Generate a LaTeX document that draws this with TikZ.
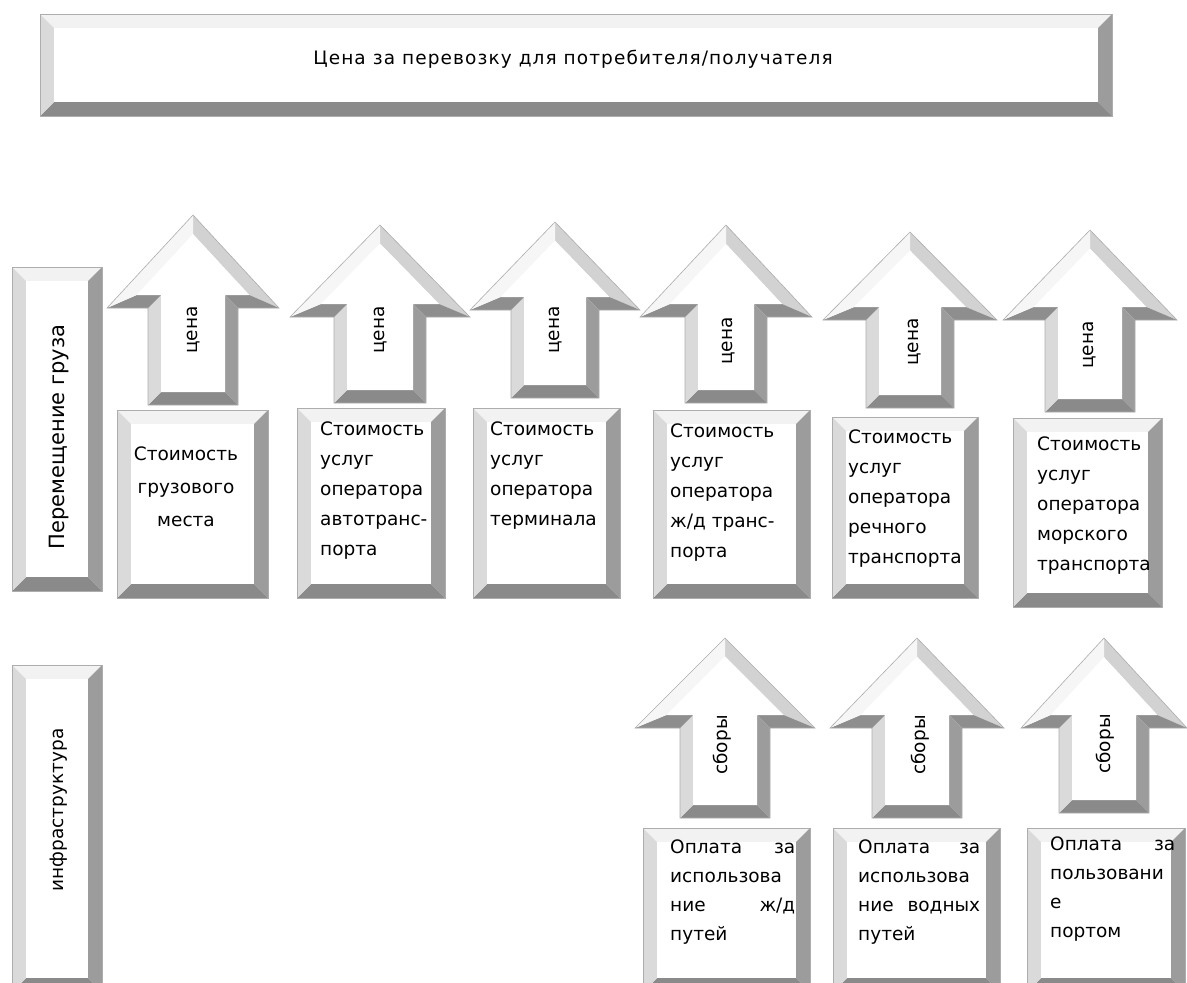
\documentclass[tikz,border=0pt]{standalone}
\usepackage{fontspec}
\setmainfont{DejaVu Sans}
\newfontfamily\topfont[LetterSpace=6]{DejaVu Sans}
\usetikzlibrary{calc}
\definecolor{bvtop}{HTML}{F2F2F2}
\definecolor{bvleft}{HTML}{DADADA}
\definecolor{bvright}{HTML}{9C9C9C}
\definecolor{bvbot}{HTML}{8A8A8A}
\definecolor{bvslantR}{HTML}{D2D2D2}
\definecolor{bvslantL}{HTML}{F6F6F6}
\definecolor{bvunder}{HTML}{8E8E8E}
\tikzset{
  edge/.style={draw=black!32, line width=0.6pt},
  boxtext/.style={anchor=north west, inner sep=0pt, align=left, font=\fontsize{18.5}{30}\selectfont},
  jtext/.style={boxtext, text width=#1},
  vlabel/.style={rotate=90, inner sep=0pt, font=\fontsize{18.5}{22}\selectfont},
}
\def\abv{13}
% name, cx, tip y, head half width, head base y, shaft half width, bottom y
\newcommand\bevarrow[7]{%
  \pgfmathsetmacro\ah{#5-#3}%
  \pgfmathsetmacro\aL{veclen(#4,\ah)}%
  \pgfmathsetmacro\atyi{#3+\abv*\aL/(#4)}%
  \pgfmathsetmacro\abyi{#5-\abv}%
  \pgfmathsetmacro\ahwi{(#4)*(\abyi-\atyi)/\ah}%
  \coordinate (#1-T) at (#2,#3);
  \coordinate (#1-R) at ({#2+#4},#5);
  \coordinate (#1-Rt) at ({#2+#6},#5);
  \coordinate (#1-Rb) at ({#2+#6},#7);
  \coordinate (#1-Lb) at ({#2-#6},#7);
  \coordinate (#1-Lt) at ({#2-#6},#5);
  \coordinate (#1-L) at ({#2-#4},#5);
  \coordinate (#1-Ti) at (#2,\atyi);
  \coordinate (#1-Ri) at ({#2+\ahwi},\abyi);
  \coordinate (#1-Rti) at ({#2+#6-\abv},\abyi);
  \coordinate (#1-Rbi) at ({#2+#6-\abv},{#7-\abv});
  \coordinate (#1-Lbi) at ({#2-#6+\abv},{#7-\abv});
  \coordinate (#1-Lti) at ({#2-#6+\abv},\abyi);
  \coordinate (#1-Li) at ({#2-\ahwi},\abyi);
  \fill[bvslantR] (#1-T)--(#1-R)--(#1-Ri)--(#1-Ti)--cycle;
  \fill[bvunder] (#1-R)--(#1-Rt)--(#1-Rti)--(#1-Ri)--cycle;
  \fill[bvright] (#1-Rt)--(#1-Rb)--(#1-Rbi)--(#1-Rti)--cycle;
  \fill[bvbot] (#1-Rb)--(#1-Lb)--(#1-Lbi)--(#1-Rbi)--cycle;
  \fill[bvleft] (#1-Lb)--(#1-Lt)--(#1-Lti)--(#1-Lbi)--cycle;
  \fill[bvunder] (#1-Lt)--(#1-L)--(#1-Li)--(#1-Lti)--cycle;
  \fill[bvslantL] (#1-L)--(#1-T)--(#1-Ti)--(#1-Li)--cycle;
  \fill[white] (#1-Ti)--(#1-Ri)--(#1-Rti)--(#1-Rbi)--(#1-Lbi)--(#1-Lti)--(#1-Li)--cycle;
  \draw[edge] (#1-T)--(#1-R)--(#1-Rt)--(#1-Rb)--(#1-Lb)--(#1-Lt)--(#1-L)--cycle;
}
% name, x1, y1, x2, y2, bevel
\newcommand\bevbox[6]{%
  \coordinate (#1-a) at (#2,#3);
  \coordinate (#1-b) at (#4,#3);
  \coordinate (#1-c) at (#4,#5);
  \coordinate (#1-d) at (#2,#5);
  \coordinate (#1-ai) at ({#2+#6},{#3+#6});
  \coordinate (#1-bi) at ({#4-#6},{#3+#6});
  \coordinate (#1-ci) at ({#4-#6},{#5-#6});
  \coordinate (#1-di) at ({#2+#6},{#5-#6});
  \fill[bvtop] (#1-a)--(#1-b)--(#1-bi)--(#1-ai)--cycle;
  \fill[bvright] (#1-b)--(#1-c)--(#1-ci)--(#1-bi)--cycle;
  \fill[bvbot] (#1-c)--(#1-d)--(#1-di)--(#1-ci)--cycle;
  \fill[bvleft] (#1-d)--(#1-a)--(#1-ai)--(#1-di)--cycle;
  \fill[white] (#1-ai)--(#1-bi)--(#1-ci)--(#1-di)--cycle;
  \draw[edge] (#1-a)--(#1-b)--(#1-c)--(#1-d)--cycle;
}
\begin{document}
\begin{tikzpicture}[x=1pt,y=-1pt]
\useasboundingbox[fill=white] (0,0) rectangle (1187,983);

% top bar
\bevbox{top}{40}{14}{1112}{116}{14}
\node[inner sep=0pt, font=\topfont\fontsize{18.5}{22}\selectfont] (toptext) at (573,59) {Цена за перевозку для потребителя/получателя};

% left row labels
\bevbox{la}{12}{267}{102}{591}{14}
\node[vlabel, font=\fontsize{21}{24}\selectfont] (latext) at (59,437) {Перемещение груза};
\bevbox{lb}{12}{665}{102}{992}{14}
\node[vlabel] (lbtext) at (59,810) {инфраструктура};

% upper arrows
\bevarrow{a1}{193}{215}{86}{308}{45}{405}
\bevarrow{a2}{380}{225}{90}{317}{46}{403}
\bevarrow{a3}{555}{222}{85}{310}{44}{398}
\bevarrow{a4}{726}{225}{86}{317}{41}{403}
\bevarrow{a5}{910}{232}{87}{320}{44}{408}
\bevarrow{a6}{1090}{230}{87}{320}{45}{412}
\node[vlabel] (l1) at (194,330) {цена};
\node[vlabel] (l2) at (381,330) {цена};
\node[vlabel] (l3) at (556,330) {цена};
\node[vlabel] (l4) at (729,341) {цена};
\node[vlabel] (l5) at (915,342) {цена};
\node[vlabel] (l6) at (1090,345) {цена};

% upper boxes
\bevbox{b1}{117}{410}{268}{598}{14}
\bevbox{b2}{297}{408}{445}{598}{14}
\bevbox{b3}{473}{408}{620}{598}{14}
\bevbox{b4}{653}{410}{810}{598}{14}
\bevbox{b5}{832}{417}{978}{598}{14}
\bevbox{b6}{1013}{418}{1162}{607}{14}
\node[anchor=north, inner sep=0pt, align=center, font=\fontsize{18.5}{33}\selectfont] (t1) at (186,437) {\strut Стоимость\\грузового\\места};
\node[boxtext] (t2) at (320,414) {\strut Стоимость\\услуг\\оператора\\автотранс-\\порта};
\node[boxtext] (t3) at (490,414) {\strut Стоимость\\услуг\\оператора\\терминала};
\node[boxtext] (t4) at (670,416) {\strut Стоимость\\услуг\\оператора\\ж/д транс-\\порта};
\node[boxtext] (t5) at (848,422) {\strut Стоимость\\услуг\\оператора\\речного\\транспорта};
\node[boxtext] (t6) at (1037,429) {\strut Стоимость\\услуг\\оператора\\морского\\транспорта};

% lower arrows
\bevarrow{a7}{725}{638}{90}{728}{45}{818}
\bevarrow{a8}{917}{638}{87}{728}{45}{818}
\bevarrow{a9}{1104}{638}{83}{728}{45}{813}
\node[vlabel] (l7) at (722,745) {сборы};
\node[vlabel] (l8) at (920,745) {сборы};
\node[vlabel] (l9) at (1105,744) {сборы};

% lower boxes
\bevbox{b7}{643}{828}{810}{992}{14}
\bevbox{b8}{833}{828}{1000}{992}{14}
\bevbox{b9}{1027}{828}{1185}{992}{14}
\node[jtext=125pt, font=\fontsize{18.5}{29}\selectfont] (t7) at (670,833) {\strut Оплата\hfill за\\использова\\ние\hfill ж/д\\путей};
\node[jtext=122pt, font=\fontsize{18.5}{29}\selectfont] (t8) at (858,833) {\strut Оплата\hfill за\\использова\\ние\hfill водных\\путей};
\node[jtext=125pt, font=\fontsize{18.5}{29}\selectfont] (t9) at (1050,830) {\strut Оплата\hfill за\\пользовани\\е\\портом};
\end{tikzpicture}
\end{document}
